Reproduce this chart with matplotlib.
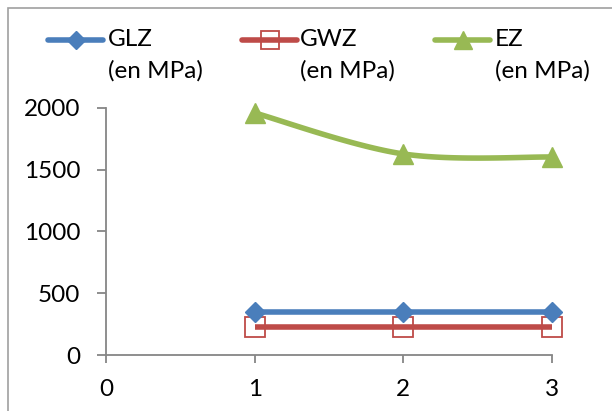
import numpy as np
import matplotlib
matplotlib.use("Agg")
import matplotlib.pyplot as plt
from matplotlib.lines import Line2D
from matplotlib.patches import Rectangle

x = [1, 2, 3]
glz = [350, 350, 350]
gwz = [225, 225, 225]
ez = [1960, 1628, 1603]
series_names = ["GLZ\n(en MPa)", "GWZ\n(en MPa)", "EZ\n(en MPa)"]
xticks = [0, 1, 2, 3]
yticks = [0, 500, 1000, 1500, 2000]

blue = "#4A7EBB"
red = "#BE4B48"
green = "#98B954"
gray = "#868686"

plt.rcParams['font.family'] = ['Lato', 'DejaVu Sans']
FS = 17.5

W, H = 612, 411
fig = plt.figure(figsize=(W / 100, H / 100), dpi=100)
ax = fig.add_axes([106 / W, 1 - 355 / H, (552 - 106) / W, (355 - 108) / H])

def smooth(xs, ys, n=40):
    xs = np.asarray(xs, float); ys = np.asarray(ys, float)
    px, py = [], []
    for i in range(len(xs) - 1):
        x0, y0 = (xs[i - 1], ys[i - 1]) if i > 0 else (xs[i], ys[i])
        x3, y3 = (xs[i + 2], ys[i + 2]) if i + 2 < len(xs) else (xs[i + 1], ys[i + 1])
        p1 = np.array([xs[i], ys[i]]); p2 = np.array([xs[i + 1], ys[i + 1]])
        c1 = p1 + (p2 - np.array([x0, y0])) / 6
        c2 = p2 - (np.array([x3, y3]) - p1) / 6
        t = np.linspace(0, 1, n)[:, None]
        pts = (1 - t) ** 3 * p1 + 3 * (1 - t) ** 2 * t * c1 + 3 * (1 - t) * t ** 2 * c2 + t ** 3 * p2
        px.extend(pts[:, 0]); py.extend(pts[:, 1])
    return px, py

ax.plot(x, glz, color=blue, lw=4, marker="D", ms=10, mfc=blue, mec=blue,
        solid_capstyle="round", clip_on=False, zorder=4)
ax.plot(x, gwz, color=red, lw=4, solid_capstyle="butt", clip_on=False, zorder=3)
ax.plot(x, gwz, ls="none", marker="s", ms=14.5, mfc="none", mec=red, mew=1.3,
        clip_on=False, zorder=3)
sx, sy = smooth(x, ez)
ax.plot(sx, sy, color=green, lw=4, solid_capstyle="round", clip_on=False, zorder=3)
ax.plot(x, ez, ls="none", marker="^", ms=14.5, mfc=green, mec=green, clip_on=False, zorder=4)

ax.set_xlim(0, 3)
ax.set_ylim(0, 2000)
ax.set_xticks(xticks)
ax.set_yticks(yticks)
ax.set_xticklabels([str(v) for v in xticks])
ax.set_yticklabels([str(v) for v in yticks])
for s in ["top", "right"]:
    ax.spines[s].set_visible(False)
for s in ["left", "bottom"]:
    ax.spines[s].set_color(gray)
    ax.spines[s].set_linewidth(1.3)
ax.tick_params(axis="y", direction="out", length=6.5, color=gray, width=1.3,
               labelsize=FS, pad=12)
ax.tick_params(axis="x", direction="out", length=6, color=gray, width=1.3,
               labelsize=FS, pad=11)

# legend drawn manually
leg_x = [(48, 103), (242, 297), (435, 490)]
text_x = [108, 300, 495]
colors = [blue, red, green]
markers = ["D", "s", "^"]
msz = [9, 12.5, 12.5]
ly = 1 - 40 / H
ly2 = 1 - 71 / H
for i in range(3):
    x0 = leg_x[i][0] / W
    x1 = leg_x[i][1] / W
    fig.add_artist(Line2D([x0, x1], [ly, ly], color=colors[i], lw=4, solid_capstyle="round"))
    if i == 1:
        fig.add_artist(Line2D([(x0 + x1) / 2], [ly], marker="s", ms=msz[i], mfc="none",
                              mec=colors[i], mew=1.3, ls="none"))
    else:
        fig.add_artist(Line2D([(x0 + x1) / 2], [ly], marker=markers[i], ms=msz[i],
                              mfc=colors[i], mec=colors[i], ls="none"))
    name, unit = series_names[i].split("\n")
    fig.text(text_x[i] / W, ly, name, fontsize=FS, va="center", ha="left")
    fig.text(text_x[i] / W, ly2, unit, fontsize=FS, va="center", ha="left")

fig.add_artist(Rectangle((8 / W, -0.1), 1.2, 1 - 8 / H + 0.1, fill=False,
                         edgecolor="#A0A0A0", lw=1.2, transform=fig.transFigure))

fig.savefig("out.png", dpi=100)
